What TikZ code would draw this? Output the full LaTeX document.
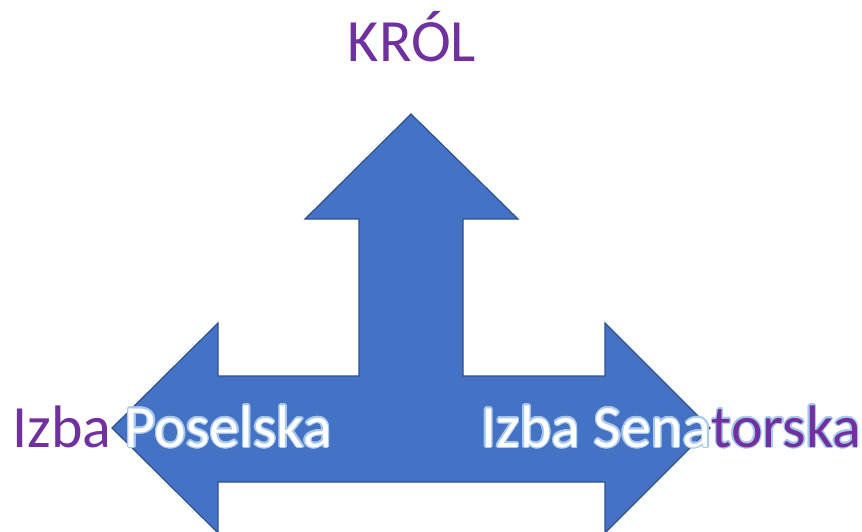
\documentclass[tikz,border=0pt]{standalone}
\usepackage{fontspec}
\setmainfont{Carlito}
\usepackage{contour}
\contourlength{1.4pt}
\contournumber{16}
\definecolor{krolpurple}{HTML}{7030A0}
\definecolor{arrowblue}{HTML}{4472C4}
\definecolor{arrowedge}{HTML}{2F528F}
\definecolor{glowblue}{HTML}{A9C8EA}
\newcommand{\glow}[1]{\contour{glowblue}{\textcolor{white}{#1}}}
\newcommand{\plum}[1]{\textcolor{krolpurple}{#1}}

\begin{document}
\begin{tikzpicture}
                \tikzset{x=1pt, y=-1pt}
                \tikzstyle{label}=[inner sep=0pt, anchor=base west, font=\fontsize{60}{62}\selectfont]

                \useasboundingbox (0,0) rectangle (862,531);
                \clip (0,0) rectangle (862,531);

                % three-way arrow
                \filldraw[fill=arrowblue, draw=arrowedge, line width=1.2pt, line join=miter]
                    (411,114) -- (518,219) -- (463,219) -- (463,376) -- (605,376) -- (605,323)
                    -- (710,428) -- (605,533) -- (605,482) -- (218,482) -- (218,533) -- (112,428)
                    -- (218,323) -- (218,376) -- (359,376) -- (359,219) -- (305,219) -- cycle;

                % labels
                \draw (412,61)     node[label, anchor=base] (krol)   {\plum{KRÓL}};
                \draw (12,447)     node[label]              (posel)  {\plum{Izba} \glow{Poselska}};
                \draw (481,447)    node[label]              (senat)  {\glow{Izba Sena}\contour{glowblue}{\plum{torska}}};
            \end{tikzpicture}
\end{document}
